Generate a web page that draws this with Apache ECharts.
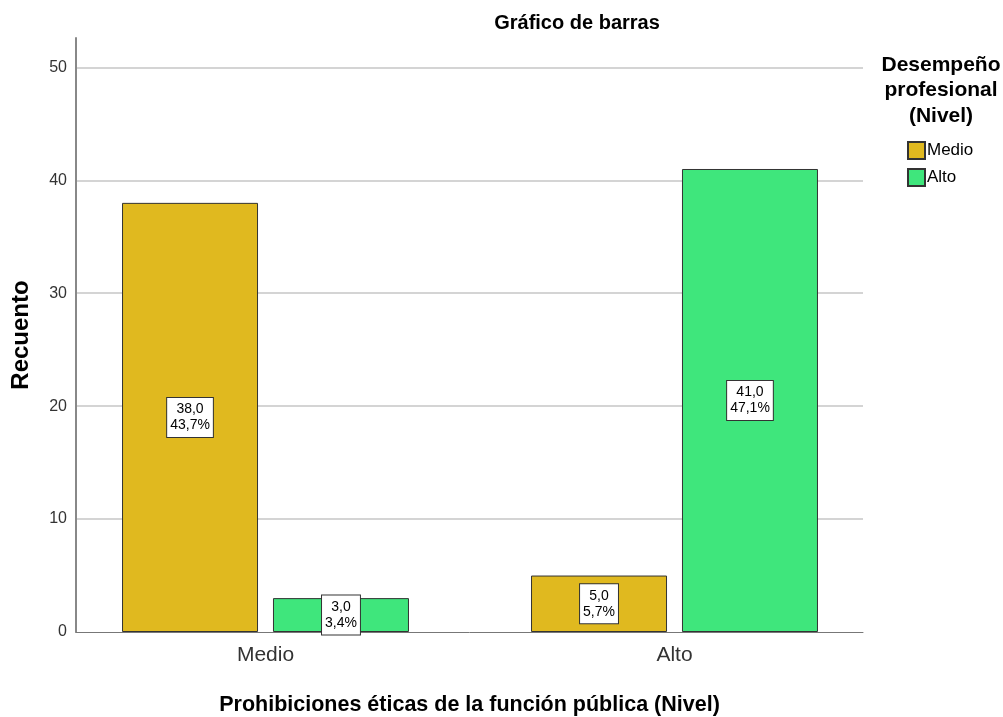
<!DOCTYPE html>
<html>
<head>
<meta charset="utf-8">
<script src="https://cdn.jsdelivr.net/npm/echarts@6/dist/echarts.min.js"></script>
<style>
  html, body { margin: 0; padding: 0; background: #fff; }
  #chart { width: 1003px; height: 717px; }
</style>
</head>
<body>
<div id="chart"></div>
<script>
// Prohibiciones éticas (Nivel) en el eje X
var categories = ['Medio', 'Alto'];
// Desempeño profesional (Nivel)
var medioCounts = [38, 5];
var altoCounts = [3, 41];
var medioPct = ['43,7%', '5,7%'];
var altoPct = ['3,4%', '47,1%'];
var yTicks = [0, 10, 20, 30, 40, 50];

var font = '"Liberation Sans", Arial, sans-serif';
var yMax = 52.6;

function labelFor(pcts) {
  return {
    show: true,
    position: 'inside',
    formatter: function (p) {
      return p.value.toFixed(1).replace('.', ',') + '\n' + pcts[p.dataIndex];
    },
    color: '#000',
    fontFamily: font,
    fontSize: 14,
    lineHeight: 16,
    backgroundColor: '#fff',
    borderColor: '#333',
    borderWidth: 1,
    padding: [4, 3, 3, 3]
  };
}

var option = {
  animation: false,
  backgroundColor: '#fff',
  title: [
    {
      text: 'Gráfico de barras',
      left: 572, top: 8,
      textAlign: 'center',
      textStyle: { fontFamily: font, fontSize: 20, fontWeight: 'bold', color: '#000' }
    },
    {
      text: 'Desempeño\nprofesional\n(Nivel)',
      left: 936, top: 47,
      textAlign: 'center',
      textStyle: { fontFamily: font, fontSize: 21, fontWeight: 'bold', color: '#000', lineHeight: 25.5 }
    }
  ],
  legend: {
    orient: 'vertical',
    left: 902, top: 136,
    itemWidth: 17, itemHeight: 17, itemGap: 8,
    icon: 'rect',
    textStyle: { fontFamily: font, fontSize: 17, color: '#000', padding: [0, 0, 0, -3] },
    data: ['Medio', 'Alto']
  },
  grid: [
    // marco: eje Y, líneas de división y línea del eje X
    { left: 76, right: 140, top: 38, bottom: 85, outerBoundsMode: 'none' },
    // barras
    { left: 61, right: 124, top: 38, bottom: 85, outerBoundsMode: 'none' }
  ],
  xAxis: [
    {
      gridIndex: 0,
      type: 'category',
      data: categories,
      name: 'Prohibiciones éticas de la función pública (Nivel)',
      nameLocation: 'middle',
      nameGap: 62,
      nameTextStyle: { fontFamily: font, fontSize: 21.5, fontWeight: 'bold', color: '#000' },
      axisLine: { lineStyle: { color: '#777', width: 1 } },
      axisTick: { show: false },
      axisLabel: { show: false }
    },
    {
      gridIndex: 1,
      type: 'category',
      data: categories,
      axisLine: { show: false },
      axisTick: { show: false },
      axisLabel: { fontFamily: font, fontSize: 21, color: '#333', margin: 13 }
    }
  ],
  yAxis: [
    {
      gridIndex: 0,
      type: 'value',
      min: 0, max: yMax, interval: 10,
      name: 'Recuento',
      nameLocation: 'middle',
      nameGap: 43,
      nameTextStyle: { fontFamily: font, fontSize: 24, fontWeight: 'bold', color: '#000' },
      axisLine: { show: true, lineStyle: { color: '#888', width: 2 } },
      axisTick: { show: false },
      axisLabel: {
        fontFamily: font, fontSize: 16, color: '#333', margin: 9,
        formatter: function (v) { return yTicks.indexOf(v) >= 0 ? String(v) : ''; }
      },
      splitLine: { show: true, showMinLine: false, showMaxLine: false, lineStyle: { color: '#d4d4d4', width: 2 } }
    },
    {
      gridIndex: 1,
      type: 'value',
      min: 0, max: yMax, interval: 10,
      show: false
    }
  ],
  series: [
    {
      name: 'Medio',
      type: 'bar',
      xAxisIndex: 1, yAxisIndex: 1,
      data: medioCounts,
      barWidth: 136,
      barGap: '11%',
      itemStyle: { color: '#E0B91F', borderColor: '#333', borderWidth: 1 },
      label: labelFor(medioPct)
    },
    {
      name: 'Alto',
      type: 'bar',
      xAxisIndex: 1, yAxisIndex: 1,
      data: altoCounts,
      barWidth: 136,
      itemStyle: { color: '#3FE67C', borderColor: '#333', borderWidth: 1 },
      label: labelFor(altoPct)
    }
  ]
};

var myChart = echarts.init(document.getElementById('chart'));
myChart.setOption(option);
</script>
</body>
</html>
